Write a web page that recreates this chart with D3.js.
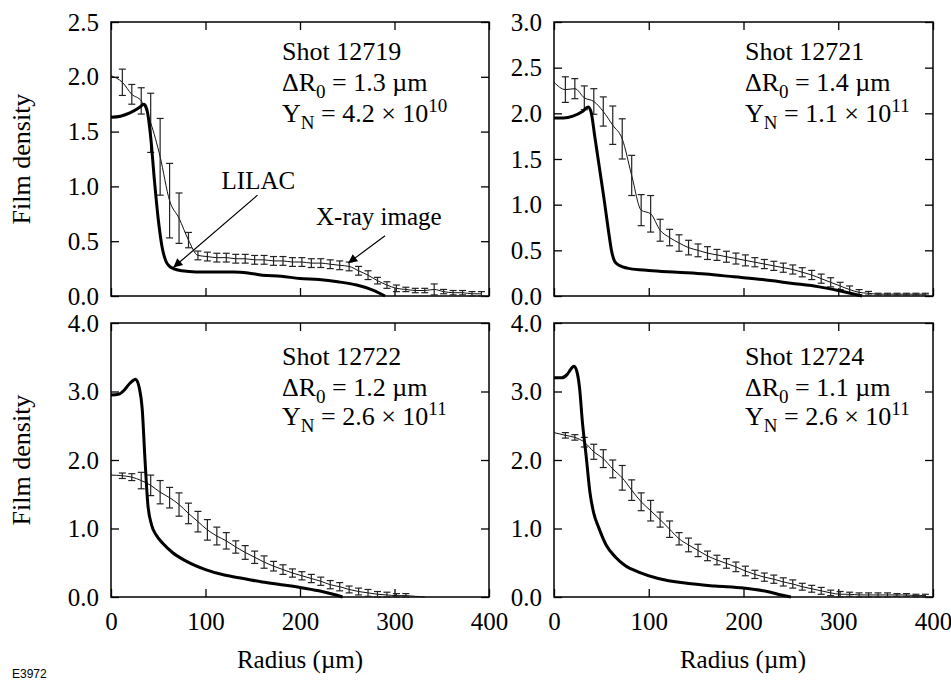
<!DOCTYPE html>
<html>
<head>
<meta charset="utf-8">
<script src="https://cdn.jsdelivr.net/npm/d3@7"></script>
<style>
  body { margin: 0; background: #fff; font-family: "Liberation Serif"; }
</style>
</head>
<body>
<div id="chart"></div>
<script>
// Film density vs radius: LILAC simulation vs X-ray image, four shots

const shots = ["12719", "12721", "12722", "12724"];
const deltaR0 = ["1.3", "1.4", "1.2", "1.1"];
const yieldMant = ["4.2", "1.1", "2.6", "2.6"];
const yieldExp = ["10", "11", "11", "11"];

const xTicks = [0, 100, 200, 300, 400];
const yTicks12719 = [0, 0.5, 1.0, 1.5, 2.0, 2.5];
const yTicks12721 = [0, 0.5, 1.0, 1.5, 2.0, 2.5, 3.0];
const yTicksBottom = [0, 1.0, 2.0, 3.0, 4.0];

// x-ray image samples (radius in um)
const radii = [12, 22, 32, 42, 52, 62, 72, 82, 92, 102, 112, 122, 132, 142, 152, 162, 172, 182, 192, 202,
  212, 222, 232, 242, 252, 262, 272, 282, 292, 302, 312, 322, 332, 342, 352, 362, 372, 382, 392];

const xrayStart = [2.01, 2.34, 1.78, 2.40]; // value at r = 0

const xray12719 = [1.95, 1.84, 1.78, 1.58, 1.27, 0.87, 0.71, 0.51, 0.37, 0.36, 0.35, 0.35, 0.34, 0.34, 0.33, 0.33, 0.32, 0.32, 0.31, 0.31,
  0.30, 0.30, 0.29, 0.28, 0.27, 0.23, 0.19, 0.14, 0.10, 0.07, 0.06, 0.05, 0.05, 0.06, 0.04, 0.03, 0.03, 0.02, 0.02];
const err12719 = [0.12, 0.09, 0.12, 0.27, 0.35, 0.34, 0.23, 0.07, 0.04, 0.04, 0.04, 0.04, 0.04, 0.04, 0.04, 0.04, 0.04, 0.04, 0.04, 0.04,
  0.04, 0.04, 0.04, 0.04, 0.04, 0.04, 0.04, 0.03, 0.03, 0.03, 0.02, 0.02, 0.02, 0.05, 0.02, 0.02, 0.02, 0.02, 0.02];

const xray12721 = [2.26, 2.27, 2.17, 2.13, 2.02, 1.87, 1.72, 1.32, 0.94, 0.90, 0.72, 0.64, 0.58, 0.53, 0.50, 0.47, 0.45, 0.43, 0.41, 0.39,
  0.37, 0.35, 0.33, 0.31, 0.29, 0.26, 0.23, 0.19, 0.15, 0.11, 0.07, 0.04, 0.03, 0.02, 0.02, 0.02, 0.02, 0.02, 0.02];
const err12721 = [0.14, 0.11, 0.13, 0.14, 0.16, 0.21, 0.22, 0.22, 0.17, 0.20, 0.12, 0.09, 0.09, 0.08, 0.07, 0.07, 0.06, 0.06, 0.06, 0.06,
  0.05, 0.05, 0.05, 0.05, 0.05, 0.05, 0.05, 0.05, 0.05, 0.04, 0.04, 0.03, 0.02, 0.01, 0.01, 0.01, 0.01, 0.01, 0.01];

const xray12722 = [1.77, 1.75, 1.70, 1.63, 1.53, 1.45, 1.35, 1.22, 1.10, 0.98, 0.89, 0.82, 0.73, 0.65, 0.58, 0.51, 0.45, 0.40, 0.35, 0.31,
  0.27, 0.23, 0.18, 0.15, 0.11, 0.08, 0.06, 0.04, 0.03, 0.02, 0.02, 0.01, 0.0, null, null, null, null, null, null];
const err12722 = [0.04, 0.05, 0.12, 0.15, 0.17, 0.15, 0.17, 0.15, 0.15, 0.15, 0.13, 0.12, 0.09, 0.10, 0.09, 0.09, 0.07, 0.07, 0.06, 0.06,
  0.06, 0.06, 0.06, 0.06, 0.05, 0.05, 0.05, 0.04, 0.04, 0.03, 0.03, 0, 0, 0, 0, 0, 0, 0, 0];

const xray12724 = [2.36, 2.33, 2.26, 2.12, 2.02, 1.87, 1.74, 1.56, 1.39, 1.26, 1.13, 0.99, 0.85, 0.76, 0.68, 0.60, 0.54, 0.49, 0.44, 0.38,
  0.33, 0.29, 0.26, 0.22, 0.19, 0.15, 0.12, 0.09, 0.06, 0.04, 0.04, 0.03, 0.03, 0.03, 0.03, 0.03, 0.03, 0.02, 0.02];
const err12724 = [0.04, 0.04, 0.07, 0.11, 0.13, 0.13, 0.18, 0.15, 0.13, 0.15, 0.11, 0.12, 0.09, 0.10, 0.09, 0.07, 0.07, 0.07, 0.07, 0.07,
  0.06, 0.06, 0.06, 0.06, 0.06, 0.05, 0.05, 0.05, 0.04, 0.04, 0.03, 0.03, 0.03, 0.03, 0.03, 0.02, 0.02, 0.02, 0.02];

// LILAC simulated film density
const lilacR12719 = [0, 10, 20, 30, 35, 38, 42, 46, 50, 54, 58, 62, 66, 75, 90, 110, 130, 145, 160, 180, 200, 220, 240, 260, 275, 290];
const lilac12719 = [1.63, 1.64, 1.67, 1.72, 1.75, 1.70, 1.45, 1.05, 0.70, 0.45, 0.32, 0.27, 0.25, 0.23, 0.22, 0.22, 0.22, 0.21, 0.19, 0.18, 0.16, 0.15, 0.13, 0.10, 0.06, 0.0];

const lilacR12721 = [0, 10, 20, 30, 36, 39, 43, 48, 53, 57, 61, 64, 68, 80, 100, 130, 160, 190, 220, 250, 280, 300, 325];
const lilac12721 = [1.95, 1.95, 1.97, 2.02, 2.07, 2.02, 1.75, 1.40, 1.05, 0.75, 0.48, 0.38, 0.34, 0.30, 0.28, 0.26, 0.24, 0.21, 0.18, 0.14, 0.10, 0.06, 0.0];

const lilacR12722 = [0, 8, 14, 20, 26, 30, 33, 36, 39, 43, 48, 55, 65, 80, 100, 120, 140, 160, 180, 200, 220, 235, 245];
const lilac12722 = [2.95, 2.96, 3.02, 3.12, 3.18, 3.05, 2.75, 2.0, 1.35, 1.05, 0.90, 0.78, 0.65, 0.52, 0.40, 0.32, 0.27, 0.22, 0.18, 0.14, 0.09, 0.04, 0.0];

const lilacR12724 = [0, 8, 14, 18, 21, 24, 27, 30, 34, 38, 42, 47, 55, 65, 75, 90, 110, 140, 170, 200, 225, 240, 250];
const lilac12724 = [3.20, 3.20, 3.25, 3.33, 3.37, 3.30, 3.05, 2.55, 2.05, 1.52, 1.22, 1.02, 0.76, 0.58, 0.46, 0.36, 0.27, 0.20, 0.16, 0.13, 0.08, 0.03, 0.0];

const width = 951, height = 684;
const serif = '"Liberation Serif"';

const panels = [
  { left: 111, right: 489, top: 22, bottom: 296, yTicks: yTicks12719, xray: xray12719, err: err12719, lr: lilacR12719, lv: lilac12719, showX: false },
  { left: 554, right: 933, top: 22, bottom: 296, yTicks: yTicks12721, xray: xray12721, err: err12721, lr: lilacR12721, lv: lilac12721, showX: false },
  { left: 111, right: 489, top: 323, bottom: 597, yTicks: yTicksBottom, xray: xray12722, err: err12722, lr: lilacR12722, lv: lilac12722, showX: true },
  { left: 554, right: 933, top: 323, bottom: 597, yTicks: yTicksBottom, xray: xray12724, err: err12724, lr: lilacR12724, lv: lilac12724, showX: true }
];

const svg = d3.select("#chart").append("svg")
  .attr("width", width)
  .attr("height", height);

svg.append("defs").append("marker")
  .attr("id", "arrow")
  .attr("viewBox", "0 0 10 10")
  .attr("refX", 10).attr("refY", 5)
  .attr("markerWidth", 11).attr("markerHeight", 9)
  .attr("markerUnits", "userSpaceOnUse")
  .attr("orient", "auto")
  .append("path")
  .attr("d", "M0,0 L10,5 L0,10 Z")
  .attr("fill", "#000");

panels.forEach((p, i) => {
  const x = d3.scaleLinear().domain([0, 400]).range([p.left, p.right]);
  const y = d3.scaleLinear().domain([0, d3.max(p.yTicks)]).range([p.bottom, p.top]);
  const g = svg.append("g");

  // axes: ticks point inward on all four sides
  const styleAxis = sel => {
    sel.attr("font-family", null).attr("font-size", null);
    sel.select(".domain").remove();
    sel.selectAll(".tick line").attr("stroke", "#000").attr("stroke-width", 1.3);
    sel.selectAll("text").style("font-family", serif).attr("font-size", 25).attr("fill", "#000");
  };

  g.append("g").attr("transform", `translate(0,${p.bottom})`)
    .call(d3.axisBottom(x).tickValues(xTicks).tickSize(-8).tickPadding(15)
      .tickFormat(p.showX ? d3.format("d") : ""))
    .call(styleAxis);
  g.append("g").attr("transform", `translate(0,${p.top})`)
    .call(d3.axisTop(x).tickValues(xTicks).tickSize(-8).tickFormat(""))
    .call(styleAxis);
  g.append("g").attr("transform", `translate(${p.left},0)`)
    .call(d3.axisLeft(y).tickValues(p.yTicks).tickSize(-8).tickPadding(12).tickFormat(d3.format(".1f")))
    .call(styleAxis);
  g.append("g").attr("transform", `translate(${p.right},0)`)
    .call(d3.axisRight(y).tickValues(p.yTicks).tickSize(-8).tickFormat(""))
    .call(styleAxis);

  g.append("rect")
    .attr("x", p.left).attr("y", p.top)
    .attr("width", p.right - p.left).attr("height", p.bottom - p.top)
    .attr("fill", "none").attr("stroke", "#000").attr("stroke-width", 1.5);

  // x-ray image: thin line with error bars
  const pts = [{ r: 0, v: xrayStart[i], e: 0 }].concat(
    radii.map((r, k) => ({ r: r, v: p.xray[k], e: p.err[k] })).filter(d => d.v !== null));

  g.append("path")
    .datum(pts)
    .attr("fill", "none")
    .attr("stroke", "#111")
    .attr("stroke-width", 1)
    .attr("d", d3.line().x(d => x(d.r)).y(d => y(d.v)).curve(d3.curveMonotoneX));

  const bars = g.selectAll(".ebar").data(pts.filter(d => d.e > 0)).join("g").attr("class", "ebar")
    .attr("stroke", "#222").attr("stroke-width", 1.2);
  bars.append("line")
    .attr("x1", d => x(d.r)).attr("x2", d => x(d.r))
    .attr("y1", d => y(Math.max(0, d.v - d.e))).attr("y2", d => y(d.v + d.e));
  bars.append("line")
    .attr("x1", d => x(d.r) - 3.5).attr("x2", d => x(d.r) + 3.5)
    .attr("y1", d => y(d.v + d.e)).attr("y2", d => y(d.v + d.e));
  bars.append("line")
    .attr("x1", d => x(d.r) - 3.5).attr("x2", d => x(d.r) + 3.5)
    .attr("y1", d => y(Math.max(0, d.v - d.e))).attr("y2", d => y(Math.max(0, d.v - d.e)));

  // LILAC simulation: thick line
  g.append("path")
    .datum(p.lr.map((r, k) => ({ r: r, v: p.lv[k] })))
    .attr("fill", "none")
    .attr("stroke", "#000")
    .attr("stroke-width", 3)
    .attr("stroke-linejoin", "round")
    .attr("d", d3.line().x(d => x(d.r)).y(d => y(d.v)).curve(d3.curveMonotoneX));

  // shot info text
  const tx = p.left + (i % 2 === 0 ? 171 : 191);
  const ty = p.top + (i < 2 ? 38 : 42);
  const info = g.append("g").attr("font-size", 26).attr("fill", "#000");
  info.append("text").attr("x", tx).attr("y", ty).style("font-family", serif).text("Shot " + shots[i]);
  const t2 = info.append("text").attr("x", tx).attr("y", ty + 31).style("font-family", serif);
  t2.append("tspan").text("\u0394R");
  t2.append("tspan").attr("font-size", 19).attr("dy", 7).text("0");
  t2.append("tspan").attr("dy", -7).text(" = " + deltaR0[i] + " \u00b5m");
  const t3 = info.append("text").attr("x", tx).attr("y", ty + (i < 2 ? 62 : 60)).style("font-family", serif);
  t3.append("tspan").text("Y");
  t3.append("tspan").attr("font-size", 19).attr("dy", 7).text("N");
  t3.append("tspan").attr("dy", -7).text(" = " + yieldMant[i] + " \u00d7 10");
  t3.append("tspan").attr("font-size", 19).attr("dy", -10).text(yieldExp[i]);

  if (i === 0) {
    // curve labels with arrows
    g.append("text").attr("x", x(117)).attr("y", y(0.98)).attr("font-size", 25)
      .style("font-family", serif).text("LILAC");
    g.append("line")
      .attr("x1", x(155)).attr("y1", y(0.92)).attr("x2", x(66)).attr("y2", y(0.26))
      .attr("stroke", "#000").attr("stroke-width", 1.2).attr("marker-end", "url(#arrow)");
    g.append("text").attr("x", x(217)).attr("y", y(0.65)).attr("font-size", 25)
      .style("font-family", serif).text("X-ray image");
    g.append("line")
      .attr("x1", x(290)).attr("y1", y(0.55)).attr("x2", x(251)).attr("y2", y(0.30))
      .attr("stroke", "#000").attr("stroke-width", 1.2).attr("marker-end", "url(#arrow)");
  }
});

// axis titles
[159, 460].forEach(cy => {
  svg.append("text")
    .attr("transform", `translate(30,${cy}) rotate(-90)`)
    .attr("text-anchor", "middle")
    .attr("font-size", 26)
    .style("font-family", serif)
    .text("Film density");
});
[300, 743].forEach(cx => {
  svg.append("text")
    .attr("x", cx).attr("y", 668)
    .attr("text-anchor", "middle")
    .attr("font-size", 25)
    .style("font-family", serif)
    .text("Radius (\u00b5m)");
});

svg.append("text")
  .attr("x", 12).attr("y", 678)
  .attr("font-size", 12)
  .style("font-family", '"Liberation Sans Narrow", "Liberation Sans"')
  .text("E3972");

// force text layout so the local serif face is picked up before the snapshot
svg.selectAll("text").each(function () { this.getComputedTextLength(); });
</script>
</body>
</html>
